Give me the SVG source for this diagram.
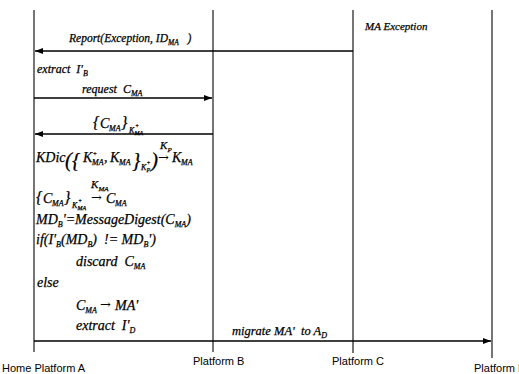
<svg xmlns="http://www.w3.org/2000/svg" width="519" height="374" viewBox="0 0 519 374">
<defs>
<marker id="ah" markerUnits="userSpaceOnUse" markerWidth="8" markerHeight="6" refX="8" refY="3" orient="auto">
<path d="M0,0 L8,3 L0,6 z" fill="#000"/>
</marker>
</defs>
<style>
.ll{stroke:#1a1a1a;stroke-width:1.2;fill:none}
.msg{stroke:#000;stroke-width:1.4;fill:none;marker-end:url(#ah)}
.t{font-family:"Liberation Serif","Times New Roman",serif;font-style:italic;fill:#000;stroke:#000;stroke-width:0.25}
.ar{font-family:"DejaVu Serif","DejaVu Sans",serif;fill:#000}
.lbl{font-family:"Liberation Sans",Arial,sans-serif;font-size:11px;fill:#000}
</style>
<rect width="519" height="374" fill="#fff"/>
<g id="platformA">
<line class="ll" x1="34" y1="10" x2="34" y2="352"/>
<text class="lbl" x="2" y="372">Home Platform A</text>
</g>
<g id="platformB">
<line class="ll" x1="213" y1="10" x2="213" y2="352"/>
<text class="lbl" x="193" y="365">Platform B</text>
</g>
<g id="platformC">
<line class="ll" x1="353" y1="10" x2="353" y2="353"/>
<text class="lbl" x="332" y="365">Platform C</text>
<text class="t" x="365" y="30" font-size="11">MA Exception</text>
</g>
<g id="platformD">
<line class="ll" x1="492" y1="10" x2="492" y2="358"/>
<text class="lbl" x="474" y="372">Platform D</text>
</g>
<g id="connectors">
<line class="msg" x1="353" y1="51" x2="35" y2="51"/>
<line class="msg" x1="34" y1="98" x2="212" y2="98"/>
<line class="msg" x1="213" y1="134" x2="35" y2="134"/>
<line class="msg" x1="34" y1="341" x2="491" y2="341"/>
<text class="t" x="69" y="42" font-size="11.5" xml:space="preserve">Report(Exception, ID<tspan font-size="7.5" dy="3">MA</tspan><tspan dy="-3">   )</tspan></text>
<text class="t" x="82" y="93" font-size="12" xml:space="preserve">request  C<tspan font-size="8" dy="3">MA</tspan></text>
<g>
<text class="t" x="93" y="128" font-size="16">{</text>
<text class="t" x="100" y="128" font-size="14">C</text>
<text class="t" x="109" y="131" font-size="8">MA</text>
<text class="t" x="121" y="128" font-size="16">}</text>
<text class="t" x="129" y="133" font-size="8">K</text>
<text class="t" x="135" y="128" font-size="6">+</text>
<text class="t" x="134.5" y="135" font-size="6">MA</text>
</g>
<text class="t" x="232" y="335" font-size="12.5" xml:space="preserve">migrate MA'  to A<tspan font-size="8" dy="3">D</tspan></text>
</g>
<g id="notesA">
<text class="t" x="37" y="73" font-size="12" xml:space="preserve">extract  I'<tspan font-size="8" dy="3">B</tspan></text>
<g id="kdic">
<text class="t" x="36" y="162" font-size="14">KDic</text>
<text class="t" x="65" y="167" font-size="21">(</text>
<text class="t" x="72" y="167" font-size="21">{</text>
<text class="t" x="83" y="162" font-size="14">K</text>
<text class="t" x="92.5" y="156" font-size="7">+</text>
<text class="t" x="92" y="165" font-size="8">MA</text>
<text class="t" x="104" y="162" font-size="14">,</text>
<text class="t" x="110" y="162" font-size="14">K</text>
<text class="t" x="119" y="165" font-size="8">MA</text>
<text class="t" x="132" y="167" font-size="21">}</text>
<text class="t" x="141" y="170" font-size="8">K</text>
<text class="t" x="146.5" y="165" font-size="6">+</text>
<text class="t" x="146.5" y="172" font-size="6">P</text>
<text class="t" x="151" y="167" font-size="21">)</text>
<text class="ar" x="158" y="162" font-size="13">→</text>
<text class="t" x="160" y="149" font-size="11">K</text>
<text class="t" x="167.5" y="152" font-size="7">P</text>
<text class="t" x="172" y="162" font-size="14">K</text>
<text class="t" x="181" y="165" font-size="8">MA</text>
</g>
<g id="decrypt">
<text class="t" x="36" y="203" font-size="16">{</text>
<text class="t" x="43" y="203" font-size="14">C</text>
<text class="t" x="52" y="206" font-size="8">MA</text>
<text class="t" x="64" y="203" font-size="16">}</text>
<text class="t" x="72" y="208" font-size="8">K</text>
<text class="t" x="78" y="203" font-size="6">+</text>
<text class="t" x="77.5" y="210" font-size="6">MA</text>
<text class="ar" x="91" y="202" font-size="13">→</text>
<text class="t" x="91" y="188" font-size="11">K</text>
<text class="t" x="98.5" y="191" font-size="7">MA</text>
<text class="t" x="106" y="203" font-size="14">C</text>
<text class="t" x="115" y="206" font-size="8">MA</text>
</g>
<text class="t" x="36" y="224" font-size="14">MD<tspan font-size="8" dy="3">B</tspan><tspan dy="-3">'=MessageDigest(C</tspan><tspan font-size="8" dy="3">MA</tspan><tspan dy="-3">)</tspan></text>
<text class="t" x="36" y="244" font-size="14" xml:space="preserve">if(I'<tspan font-size="8" dy="3">B</tspan><tspan dy="-3">(MD</tspan><tspan font-size="8" dy="3">B</tspan><tspan dy="-3">)  != MD</tspan><tspan font-size="8" dy="3">B</tspan><tspan dy="-3">')</tspan></text>
<text class="t" x="76" y="266" font-size="14" xml:space="preserve">discard  C<tspan font-size="8" dy="3">MA</tspan></text>
<text class="t" x="37" y="287" font-size="14">else</text>
<text class="t" x="76" y="310" font-size="14">C<tspan font-size="8" dy="3">MA</tspan></text>
<text class="ar" x="100" y="309" font-size="13">→</text>
<text class="t" x="115" y="310" font-size="14">MA'</text>
<text class="t" x="76" y="330" font-size="14" xml:space="preserve">extract  I'<tspan font-size="8" dy="3">D</tspan></text>
</g>
</svg>
